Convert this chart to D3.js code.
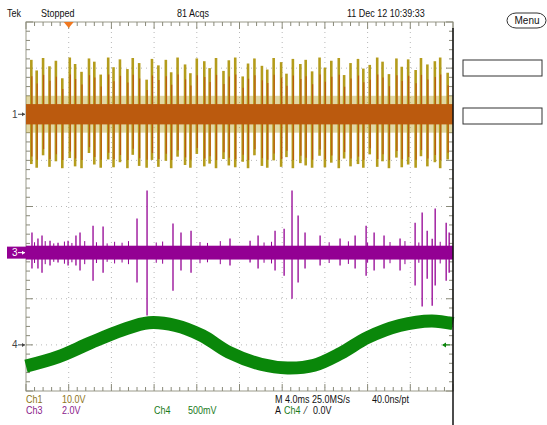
<!DOCTYPE html>
<html>
<head>
<meta charset="utf-8">
<script src="https://cdn.jsdelivr.net/npm/d3@7"></script>
<style>
  body { margin: 0; background: #fff; }
  text { font-family: "Liberation Sans", Arial, sans-serif; font-size: 10px; }
</style>
</head>
<body>
<div id="scope"></div>
<script>
// time in ms (trigger at 0), volts per channel
const ch1SpikeTime = [-3.5,-3.0,-2.4,-1.8,-1.2,-0.6,0.1,0.6,1.2,1.9,
  2.4,3.0,3.7,4.2,4.8,5.5,6.0,6.6,7.3,7.8,
  8.4,9.1,9.6,10.2,10.9,11.4,12.0,12.7,13.2,13.8,
  14.5,15.0,15.6,16.3,16.8,17.4,18.1,18.6,19.2,19.9,
  20.4,21.0,21.7,22.2,22.8,23.5,24.0,24.6,25.3,25.8,
  26.4,27.1,27.6,28.2,28.9,29.4,30.0,30.7,31.2,31.8,
  32.5,33.0,33.6,34.3,34.8,35.5];
const ch1SpikeHi = [11.8,9.5,12.2,10.4,11.6,7.8,12.3,10.9,9.2,12.1,
  11.4,8.6,12.3,10.2,11.9,9.8,12.2,11.1,7.5,12.0,
  10.6,11.8,9.1,12.3,10.8,8.9,12.1,11.5,10.0,12.2,
  9.4,11.7,12.3,8.2,11.0,12.1,10.5,9.7,12.2,11.3,
  8.8,12.0,10.9,11.8,9.3,12.3,10.1,11.6,12.2,8.5,
  11.1,12.0,9.9,10.7,12.3,11.4,8.7,12.1,10.3,11.9,
  9.6,12.2,10.8,11.5,12.3,9.0];
const ch1SpikeLo = [-10.8,-11.6,-8.9,-11.4,-10.2,-11.7,-9.5,-11.3,-11.7,-8.4,
  -10.9,-11.6,-9.8,-11.5,-10.4,-11.7,-8.8,-11.2,-11.6,-9.9,
  -11.4,-10.1,-11.7,-9.2,-11.0,-11.6,-8.6,-11.3,-10.7,-11.7,
  -9.7,-11.1,-11.5,-10.3,-11.7,-8.9,-11.2,-11.6,-10.0,-11.4,
  -9.3,-11.7,-10.6,-11.1,-11.6,-9.0,-11.5,-10.5,-11.7,-9.6,
  -11.3,-10.8,-11.6,-8.7,-11.4,-10.2,-11.7,-9.4,-11.5,-10.9,
  -11.6,-9.1,-11.3,-10.4,-11.7,-9.8];

const ch3SpikeTime = [-3.44,-2.88,-2.5,-1.75,-1.0,-0.06,0.68,1.06,2.28,3.22,
  6.4,7.34,9.77,10.52,11.46,15.11,16.99,17.74,19.33,20.18,
  20.92,21.49,22.14,23.55,25.42,26.83,27.86,28.61,29.54,31.04,
  32.45,33.11,33.58,34.05,34.33,35.36,35.64];
const ch3SpikeHi = [0.87,0.61,0.74,0.52,0.43,0.52,0.74,0.87,1.17,1.13,
  1.48,2.69,1.26,0.87,0.95,0.61,0.52,0.74,0.95,1.04,
  2.69,1.61,0.87,0.74,0.61,0.74,1.17,0.87,0.74,0.61,
  1.30,1.74,0.95,0.60,1.91,1.30,0.87];
const ch3SpikeLo = [-0.69,-0.69,-0.87,-0.56,-0.43,-0.56,-0.56,-0.78,-1.22,-0.87,
  -1.30,-2.73,-1.65,-0.78,-0.87,-0.56,-0.43,-0.69,-0.78,-1.0,
  -2.0,-1.30,-0.69,-0.56,-0.56,-0.69,-1.0,-0.78,-0.69,-0.78,
  -1.43,-2.34,-1.13,-2.30,-1.43,-1.22,-0.87];
const ch3NoiseTime = [-3.2,-2.2,-1.4,-0.4,0.3,1.5,2.6,3.6,4.3,5.0,5.6,8.2,8.8,
  12.3,13.0,14.2,18.3,19.0,24.4,26.2,28.0,30.1,31.5,32.8,34.8];
const ch3NoiseAmp = [0.45,0.5,0.4,0.48,0.42,0.5,0.45,0.4,0.47,0.43,0.5,0.44,0.48,
  0.46,0.42,0.5,0.44,0.47,0.45,0.49,0.43,0.46,0.5,0.44,0.47];

const ch4Time = [-4,-1,2,5,7.5,10,12.5,15,18,20.5,23,25.5,28,31,34,36];
const ch4Volt = [-0.23,-0.13,0.02,0.16,0.24,0.21,0.10,-0.08,-0.21,-0.25,-0.22,-0.09,0.08,0.21,0.26,0.23];

const channels = [
  { name: "Ch1", label: "1", scale: 10.0, pos: 2, unit: "10.0V" },
  { name: "Ch3", label: "3", scale: 2.0, pos: -1, unit: "2.0V" },
  { name: "Ch4", label: "4", scale: 0.5, pos: -3, unit: "500mV" }
];

const W = 547, H = 425;
const gLeft = 26, gRight = 453, gTop = 22, gBottom = 391;

const svg = d3.select("#scope").append("svg")
  .attr("width", W)
  .attr("height", H);

const x = d3.scaleLinear().domain([-4, 36]).range([gLeft, gRight]);
const div = d3.scaleLinear().domain([-4, 4]).range([gBottom, gTop]);
const yCh = (ch, v) => div(ch.pos + v / ch.scale);

const [c1, c3, c4] = channels;

// graticule
const grid = svg.append("g");
const divX = d3.range(0, 11).map(i => gLeft + i * (gRight - gLeft) / 10);
const divY = d3.range(0, 9).map(i => gTop + i * (gBottom - gTop) / 8);

divX.slice(1, -1).forEach(px => {
  grid.append("line")
    .attr("x1", px).attr("x2", px).attr("y1", gTop).attr("y2", gBottom)
    .attr("stroke", "#b8b8b8").attr("stroke-dasharray", "1,4");
});
divY.slice(1, -1).forEach(py => {
  grid.append("line")
    .attr("x1", gLeft).attr("x2", gRight).attr("y1", py).attr("y2", py)
    .attr("stroke", "#b8b8b8").attr("stroke-dasharray", "1,4");
});

grid.append("rect")
  .attr("x", gLeft).attr("y", gTop)
  .attr("width", gRight - gLeft).attr("height", gBottom - gTop)
  .attr("fill", "none").attr("stroke", "#9a9a8a");

// border ticks
const tickCol = "#8a8a7a";
d3.range(0, 51).forEach(i => {
  const px = gLeft + i * (gRight - gLeft) / 50;
  const len = i % 5 === 0 ? 7 : 4;
  grid.append("line").attr("x1", px).attr("x2", px).attr("y1", gTop).attr("y2", gTop + len).attr("stroke", tickCol);
  grid.append("line").attr("x1", px).attr("x2", px).attr("y1", gBottom).attr("y2", gBottom - len).attr("stroke", tickCol);
});
d3.range(0, 41).forEach(i => {
  const py = gTop + i * (gBottom - gTop) / 40;
  const len = i % 5 === 0 ? 7 : 4;
  grid.append("line").attr("x1", gLeft).attr("x2", gLeft + len).attr("y1", py).attr("y2", py).attr("stroke", tickCol);
  grid.append("line").attr("x1", gRight).attr("x2", gRight - len).attr("y1", py).attr("y2", py).attr("stroke", tickCol);
});

// Ch1 trace
const olive = "#b49c1c", orange = "#bb5a0e";
const g1 = svg.append("g");
g1.append("rect")
  .attr("x", gLeft).attr("width", gRight - gLeft)
  .attr("y", yCh(c1, 4.0)).attr("height", yCh(c1, -4.0) - yCh(c1, 4.0))
  .attr("fill", olive).attr("opacity", 0.4);
ch1SpikeTime.forEach((t, i) => {
  g1.append("line")
    .attr("x1", x(t)).attr("x2", x(t))
    .attr("y1", yCh(c1, ch1SpikeHi[i])).attr("y2", yCh(c1, ch1SpikeLo[i]))
    .attr("stroke", olive).attr("stroke-width", 2.6);
  g1.append("line")
    .attr("x1", x(t) + 0.5).attr("x2", x(t) + 0.5)
    .attr("y1", yCh(c1, ch1SpikeHi[i] * 0.7)).attr("y2", yCh(c1, ch1SpikeLo[i] * 0.85))
    .attr("stroke", orange).attr("stroke-width", 1.2);
});
g1.append("rect")
  .attr("x", gLeft).attr("width", gRight - gLeft)
  .attr("y", yCh(c1, 2.2)).attr("height", yCh(c1, -2.2) - yCh(c1, 2.2))
  .attr("fill", orange);

// Ch3 trace
const purple = "#930093";
const g3 = svg.append("g");
ch3NoiseTime.forEach((t, i) => {
  g3.append("line")
    .attr("x1", x(t)).attr("x2", x(t))
    .attr("y1", yCh(c3, ch3NoiseAmp[i])).attr("y2", yCh(c3, -ch3NoiseAmp[i]))
    .attr("stroke", purple).attr("stroke-width", 1);
});
ch3SpikeTime.forEach((t, i) => {
  g3.append("line")
    .attr("x1", x(t)).attr("x2", x(t))
    .attr("y1", yCh(c3, ch3SpikeHi[i])).attr("y2", yCh(c3, ch3SpikeLo[i]))
    .attr("stroke", purple).attr("stroke-width", 1.3);
});
g3.append("rect")
  .attr("x", gLeft).attr("width", gRight - gLeft)
  .attr("y", yCh(c3, 0.3)).attr("height", yCh(c3, -0.3) - yCh(c3, 0.3))
  .attr("fill", purple);

// Ch4 trace
const green = "#0a870a";
const line4 = d3.line()
  .x((d, i) => x(ch4Time[i]))
  .y(d => yCh(c4, d))
  .curve(d3.curveCatmullRom);
svg.append("path")
  .attr("d", line4(ch4Volt))
  .attr("fill", "none").attr("stroke", green).attr("stroke-width", 13);

// right screen edge
svg.append("line")
  .attr("x1", gRight).attr("x2", gRight).attr("y1", 28).attr("y2", H)
  .attr("stroke", "#111").attr("stroke-width", 1.5);

// channel markers
const marker = (ch, color, boxed) => {
  const y0 = yCh(ch, 0);
  if (boxed) {
    svg.append("rect").attr("x", 7).attr("y", y0 - 6).attr("width", 19).attr("height", 12).attr("fill", color);
  }
  const c = boxed ? "#fff" : "#444";
  svg.append("text").attr("x", 12).attr("y", y0 + 3.5).attr("fill", c).text(ch.label);
  svg.append("line").attr("x1", 18).attr("x2", 25).attr("y1", y0).attr("y2", y0).attr("stroke", c);
  svg.append("path").attr("d", `M25,${y0} l-3,-2 v4 z`).attr("fill", c);
};
marker(c1, orange, false);
marker(c3, purple, true);
marker(c4, green, false);

// trigger level arrow (right) and trigger position (top)
const trigY = yCh(c4, 0.0);
svg.append("line").attr("x1", 443).attr("x2", 450).attr("y1", trigY).attr("y2", trigY).attr("stroke", green);
svg.append("path").attr("d", `M442,${trigY} l4,-2.5 v5 z`).attr("fill", green);
svg.append("path").attr("d", `M${x(0) - 5},${gTop} h10 l-5,6 z`).attr("fill", "#f07820");

// header (scope font is condensed)
const txt = (px, py, s, col) => svg.append("text")
  .attr("transform", `translate(${px},${py}) scale(0.9,1)`)
  .attr("fill", col || "#111").text(s);
txt(7, 17, "Tek");
txt(41, 17, "Stopped");
txt(177, 17, "81 Acqs");
txt(347, 17, "11 Dec 12 10:39:33");

// menu + side boxes
svg.append("rect").attr("x", 507).attr("y", 13).attr("width", 39).attr("height", 15).attr("rx", 9)
  .attr("fill", "#fff").attr("stroke", "#333");
svg.append("text").attr("x", 527).attr("y", 24).attr("text-anchor", "middle").attr("font-size", 9).attr("fill", "#111").text("Menu");
[60, 108].forEach(by => {
  svg.append("rect").attr("x", 463).attr("y", by).attr("width", 79).attr("height", 16)
    .attr("fill", "#fff").attr("stroke", "#333");
});

// footer
const ch1Col = "#8c7420", ch3Col = "#8a1a8a", ch4Col = "#1a7a1a";
txt(26, 403, c1.name, ch1Col); txt(62, 403, c1.unit, ch1Col);
txt(26, 414, c3.name, ch3Col); txt(62, 414, c3.unit, ch3Col);
txt(154, 414, c4.name, ch4Col); txt(188, 414, c4.unit, ch4Col);
txt(275, 403, "M 4.0ms 25.0MS/s");
txt(372, 403, "40.0ns/pt");
txt(275, 414, "A");
txt(284, 414, c4.name, ch4Col);
txt(305, 414, "⁄");
txt(313, 414, "0.0V");
</script>
</body>
</html>
